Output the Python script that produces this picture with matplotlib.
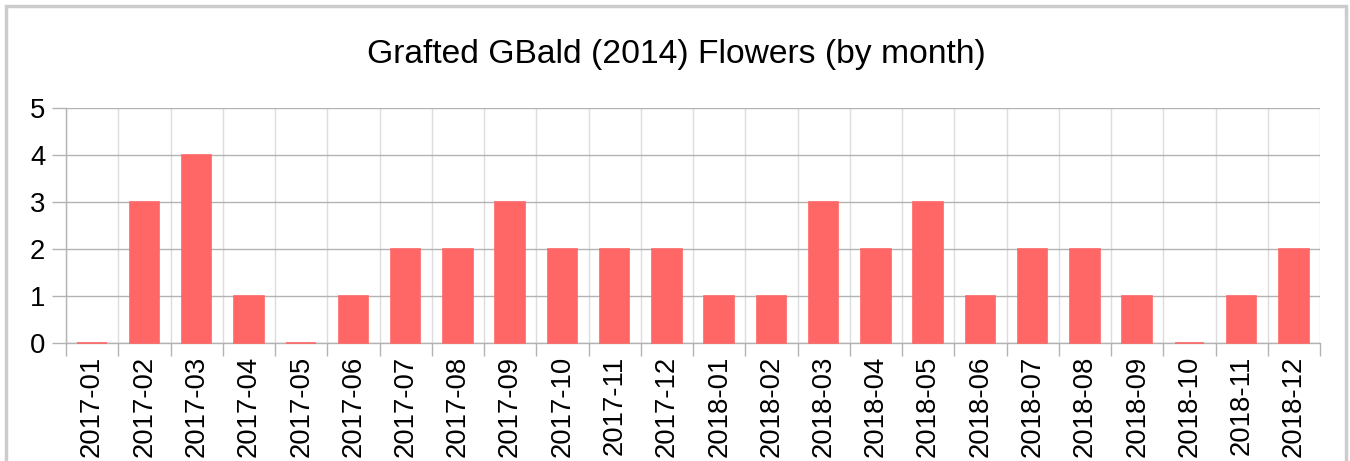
import matplotlib
matplotlib.use("Agg")
import matplotlib.pyplot as plt
from matplotlib.patches import Rectangle
import numpy as np

months = ["2017-01", "2017-02", "2017-03", "2017-04", "2017-05", "2017-06",
          "2017-07", "2017-08", "2017-09", "2017-10", "2017-11", "2017-12",
          "2018-01", "2018-02", "2018-03", "2018-04", "2018-05", "2018-06",
          "2018-07", "2018-08", "2018-09", "2018-10", "2018-11", "2018-12"]
flowers = [0, 3, 4, 1, 0, 1, 2, 2, 3, 2, 2, 2,
           1, 1, 3, 2, 3, 1, 2, 2, 1, 0, 1, 2]
title = "Grafted GBald (2014) Flowers (by month)"
yticks = [0, 1, 2, 3, 4, 5]

plt.rcParams['font.family'] = ['Liberation Sans', 'DejaVu Sans']

fig = plt.figure(figsize=(13.5, 4.61), dpi=100)
ax = fig.add_axes([66/1350, 1 - 343/461, (1320-66)/1350, (343-108)/461])

x = np.arange(len(months))
bar_color = "#ff6666"
bars = ax.bar(x, flowers, width=0.565, color=bar_color, edgecolor=bar_color,
              linewidth=1.2, zorder=4)
for b in bars:
    b.set_clip_on(False)

ax.set_xlim(-0.5, len(months) - 0.5)
ax.set_ylim(0, 5)
ax.set_yticks(yticks)
ax.set_yticklabels([str(v) for v in yticks])
ax.set_xticks(x)
ax.set_xticklabels(months, rotation=90)
ax.set_xticks(np.arange(len(months) + 1) - 0.5, minor=True)

ax.tick_params(axis='x', which='major', length=0, labelsize=19.8, pad=9)
ax.tick_params(axis='x', which='minor', length=9, color="#b3b3b3", width=1)
ax.tick_params(axis='y', which='major', length=10, color="#b3b3b3", width=1, labelsize=19.8, pad=5)

ax.yaxis.grid(True, color="#b3b3b3", linewidth=1, zorder=0)
ax.xaxis.grid(True, which='minor', color="#dddddd", linewidth=1, zorder=0)
ax.xaxis.grid(False, which='major')
ax.set_axisbelow(True)

for s in ['top', 'right']:
    ax.spines[s].set_visible(False)
for s in ['left', 'bottom']:
    ax.spines[s].set_color("#b3b3b3")
    ax.spines[s].set_linewidth(1)
    ax.spines[s].set_zorder(2)

fig.text(676/1350, 1 - 55/461, title, ha='center', va='center', fontsize=24.2)

# outer border
fig.patches.append(Rectangle((6/1350, -0.1), (1346-6)/1350, 1 - 6/461 + 0.1,
                             transform=fig.transFigure, fill=False,
                             edgecolor="#cccccc", linewidth=2.5))

fig.savefig("out.png", dpi=100)
